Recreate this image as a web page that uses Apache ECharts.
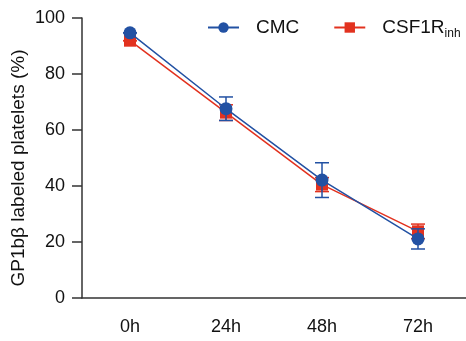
<!DOCTYPE html>
<html>
<head>
<meta charset="utf-8">
<script src="https://cdn.jsdelivr.net/npm/echarts@6/dist/echarts.min.js"></script>
<style>
    html, body { margin: 0; padding: 0; background: #fff; }
    #chart { width: 466px; height: 341px; }
</style>
</head>
<body>
<div id="chart"></div>
<script>
var categories = ['0h', '24h', '48h', '72h'];
var cmcMean = [94.7, 67.6, 42.1, 21.1];
var cmcErr = [0, 4.2, 6.2, 3.6];
var csfMean = [91.9, 66.2, 40.5, 23.8];
var csfErr = [0, 2.8, 2.5, 2.6];

var BLUE = '#2251a3';
var RED = '#e2321f';
var FONT = 'Liberation Sans, Arial, sans-serif';

function errorSeries(name, mean, err, color, z) {
    var data = [];
    for (var i = 0; i < mean.length; i++) {
        data.push([i, mean[i] - err[i], mean[i] + err[i]]);
    }
    return {
        name: name,
        type: 'custom',
        z: z,
        silent: true,
        data: data,
        renderItem: function(params, api) {
            var x = api.value(0);
            var lo = api.coord([x, api.value(1)]);
            var hi = api.coord([x, api.value(2)]);
            var w = 7;
            return {
                type: 'group',
                children: [
                    { type: 'line', shape: { x1: lo[0], y1: lo[1], x2: hi[0], y2: hi[1] }, style: { stroke: color, lineWidth: 1.5 } },
                    { type: 'line', shape: { x1: lo[0] - w, y1: lo[1], x2: lo[0] + w, y2: lo[1] }, style: { stroke: color, lineWidth: 1.5 } },
                    { type: 'line', shape: { x1: hi[0] - w, y1: hi[1], x2: hi[0] + w, y2: hi[1] }, style: { stroke: color, lineWidth: 1.5 } }
                ]
            };
        }
    };
}

var chart = echarts.init(document.getElementById('chart'));

var option = {
    animation: false,
    textStyle: { fontFamily: FONT },
    legend: {
        data: ['CMC', 'CSF1R'],
        top: 13,
        left: 202,
        width: 300,
        itemWidth: 31,
        itemHeight: 13,
        itemGap: 34,
        textStyle: {
            fontSize: 19,
            color: '#111',
            fontFamily: FONT,
            padding: [0, 0, 0, 12],
            rich: {
                sub: { fontSize: 12, color: '#111', verticalAlign: 'bottom', padding: [12, 0, 0, 0], fontFamily: FONT }
            }
        },
        formatter: function(name) {
            if (name == 'CSF1R') {
                return 'CSF1R{sub|inh}';
            }
            return name;
        }
    },
    grid: { left: 82, right: 0, top: 18, bottom: 43, outerBoundsMode: 'none', containLabel: false },
    xAxis: {
        type: 'category',
        data: categories,
        boundaryGap: true,
        axisLine: { lineStyle: { color: '#333', width: 1.5 } },
        axisTick: { alignWithLabel: true, length: 10, lineStyle: { color: '#333', width: 1.5 } },
        axisLabel: { fontSize: 18, color: '#111', margin: 20, fontFamily: FONT }
    },
    yAxis: {
        type: 'value',
        min: 0,
        max: 100,
        interval: 20,
        name: 'GP1bβ labeled platelets (%)',
        nameLocation: 'middle',
        nameGap: 54,
        nameMoveOverlap: false,
        nameTextStyle: { fontSize: 19, color: '#111', fontFamily: FONT, padding: [0, 20, 0, 0] },
        splitLine: { show: false },
        axisLine: { show: true, lineStyle: { color: '#333', width: 1.5 } },
        axisTick: { show: true, length: 10, lineStyle: { color: '#333', width: 1.5 } },
        axisLabel: { fontSize: 18, color: '#111', margin: 17, fontFamily: FONT }
    },
    series: [
        errorSeries('csfErr', csfMean, csfErr, RED, 2),
        {
            name: 'CSF1R',
            type: 'line',
            z: 3,
            data: csfMean,
            symbol: 'rect',
            symbolSize: 12,
            itemStyle: { color: RED },
            lineStyle: { color: RED, width: 1.5 }
        },
        errorSeries('cmcErr', cmcMean, cmcErr, BLUE, 4),
        {
            name: 'CMC',
            type: 'line',
            z: 5,
            data: cmcMean,
            symbol: 'circle',
            symbolSize: 13,
            itemStyle: { color: BLUE },
            lineStyle: { color: BLUE, width: 1.5 }
        }
    ]
};

chart.setOption(option);
</script>
</body>
</html>
